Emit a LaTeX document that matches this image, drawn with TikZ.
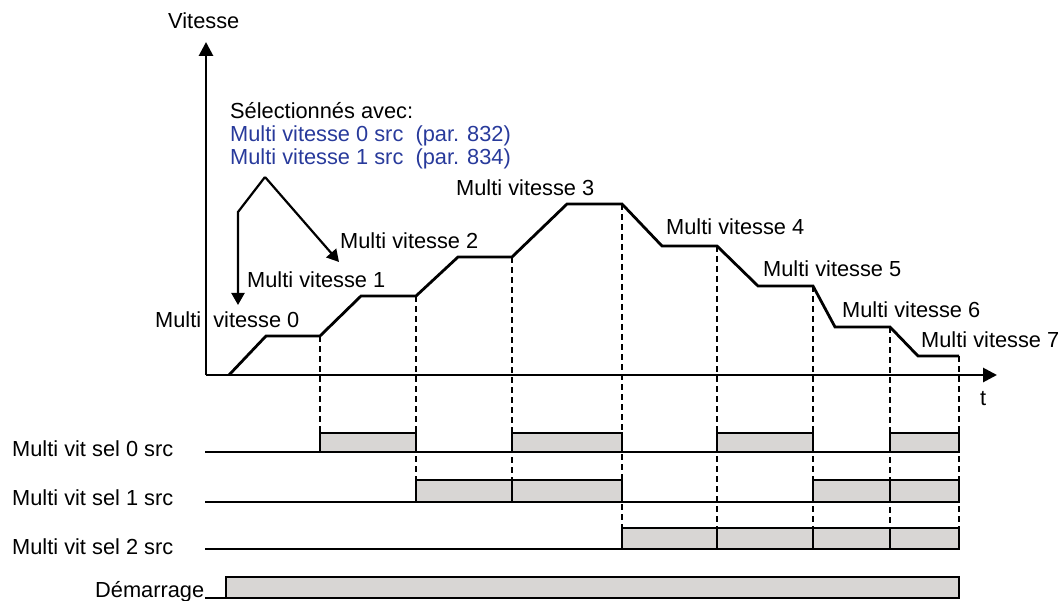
\documentclass[tikz,border=0pt]{standalone}
\usepackage{fontspec}
\setmainfont{Liberation Sans}
\usetikzlibrary{arrows.meta}
\definecolor{selblue}{RGB}{40,58,155}
\definecolor{boxgray}{RGB}{216,214,212}
\tikzset{
  lbl/.style={anchor=base west,inner sep=0pt,font=\fontsize{21.8}{24}\selectfont},
  axis/.style={line width=2.8pt,-{Triangle[length=14pt,width=14pt]}},
  profile/.style={line width=2.8pt,line join=miter},
  pointer/.style={line width=2.2pt,-{Triangle[length=12pt,width=13pt]}},
  guide/.style={line width=1.1pt,dash pattern=on 6pt off 4pt},
  sigline/.style={line width=1.8pt},
  sigbox/.style={draw,fill=boxgray,line width=1.8pt}
}
\begin{document}
\begin{tikzpicture}[x=1pt,y=-1pt]
\useasboundingbox (0,0) rectangle (1062,601);

% axes
\coordinate (O) at (206,375);
\coordinate (ytip) at (206,42);
\coordinate (xtip) at (997,375);
\draw[axis] (O) -- (ytip);
\draw[axis] (O) -- (xtip);
\node[lbl] (vlabel) at (168,29) {Vitesse};
\node[lbl] (tlabel) at (980,405) {t};

% speed profile
\coordinate (p0) at (229,375);
\coordinate (p1) at (266,336);
\coordinate (p2) at (320,336);
\coordinate (p3) at (361,296);
\coordinate (p4) at (416,296);
\coordinate (p5) at (458,257);
\coordinate (p6) at (512,257);
\coordinate (p7) at (567,204);
\coordinate (p8) at (622,204);
\coordinate (p9) at (662,246);
\coordinate (p10) at (717,246);
\coordinate (p11) at (758,286);
\coordinate (p12) at (813,286);
\coordinate (p13) at (835,327);
\coordinate (p14) at (890,327);
\coordinate (p15) at (918,356);
\coordinate (p16) at (959,356);

% switching instants
\draw[guide] (p2) -- (320,452);
\draw[guide] (p4) -- (416,502);
\draw[guide] (p6) -- (512,502);
\draw[guide] (p8) -- (622,549);
\draw[guide] (p10) -- (717,549);
\draw[guide] (p12) -- (813,549);
\draw[guide] (p14) -- (890,549);
\draw[guide] (p16) -- (959,549);

\draw[profile] (p0) -- (p1) -- (p2) -- (p3) -- (p4) -- (p5) -- (p6) -- (p7)
  -- (p8) -- (p9) -- (p10) -- (p11) -- (p12) -- (p13) -- (p14) -- (p15) -- (p16);

% speed labels
\node[lbl] (ms0) at (155,327) {Multi\ \ vitesse 0};
\node[lbl] (ms1) at (247,288) {Multi vitesse 1};
\node[lbl] (ms2) at (340,249) {Multi vitesse 2};
\node[lbl] (ms3) at (456,196) {Multi vitesse 3};
\node[lbl] (ms4) at (666,235) {Multi vitesse 4};
\node[lbl] (ms5) at (763,277) {Multi vitesse 5};
\node[lbl] (ms6) at (842,318) {Multi vitesse 6};
\node[lbl] (ms7) at (921,348) {Multi vitesse 7};

% selection note
\node[lbl] (sel) at (230,119) {Sélectionnés avec:};
\node[lbl,text=selblue] (par0) at (230,142) {Multi vitesse 0 src\ \ (par. 832)};
\node[lbl,text=selblue] (par1) at (230,165) {Multi vitesse 1 src\ \ (par. 834)};
\coordinate (apex) at (265,177);
\coordinate (bend) at (238,212);
\coordinate (tip0) at (238,305);
\coordinate (tip1) at (339,262);
\draw[pointer,line join=miter] (apex) -- (bend) -- (tip0);
\draw[pointer] (apex) -- (tip1);

% selector signals
\node[lbl] (s0) at (12,456) {Multi vit sel 0 src};
\node[lbl] (s1) at (12,505) {Multi vit sel 1 src};
\node[lbl] (s2) at (12,554) {Multi vit sel 2 src};
\node[lbl] (dem) at (95,597) {Démarrage};

\draw[sigline] (205,452) -- (959,452);
\draw[sigline] (205,502) -- (959,502);
\draw[sigline] (205,549) -- (959,549);
\draw[sigline] (205,598) -- (226,598);

% sel 0
\draw[sigbox] (320,433) rectangle (416,452);
\draw[sigbox] (512,433) rectangle (622,452);
\draw[sigbox] (717,433) rectangle (813,452);
\draw[sigbox] (890,433) rectangle (959,452);
% sel 1
\draw[sigbox] (416,480) rectangle (512,502);
\draw[sigbox] (512,480) rectangle (622,502);
\draw[sigbox] (813,480) rectangle (890,502);
\draw[sigbox] (890,480) rectangle (959,502);
% sel 2
\draw[sigbox] (622,528) rectangle (717,549);
\draw[sigbox] (717,528) rectangle (813,549);
\draw[sigbox] (813,528) rectangle (890,549);
\draw[sigbox] (890,528) rectangle (959,549);
% start
\draw[sigbox] (226,577) rectangle (959,598);
\end{tikzpicture}
\end{document}
